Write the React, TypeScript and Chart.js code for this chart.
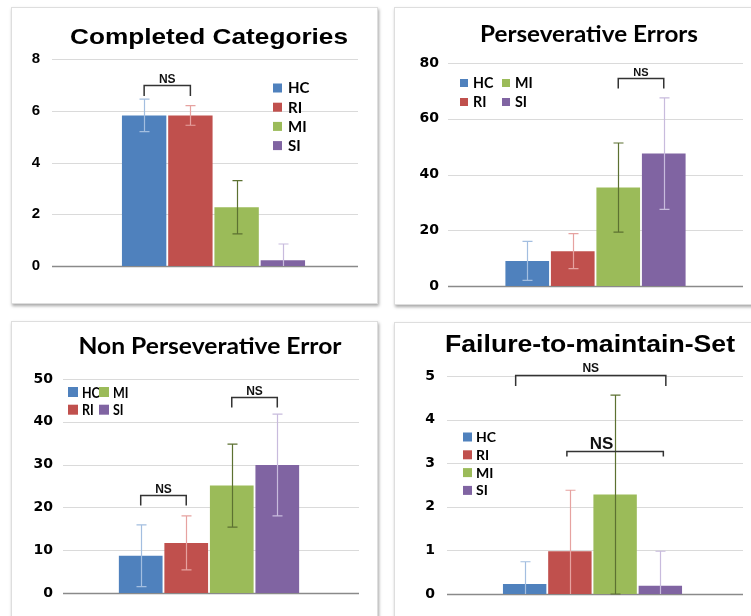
import React, { useEffect, useRef } from 'react';
import { Chart, registerables } from 'chart.js';
Chart.register(...registerables);

// ---------- data ----------
const groups = ['HC', 'RI', 'MI', 'SI'];
const barColors = ['#4F81BD', '#C0504D', '#9BBB59', '#8064A2'];
const errorColors = ['#A3BEE0', '#E6A2A0', '#5C7131', '#C8BBDD'];

const ccTitle = 'Completed Categories';
const ccMeans = [5.82, 5.82, 2.27, 0.22];
const ccErrors = [0.63, 0.38, 1.03, 0.63];
const ccAxis = [0, 8, 2];
const ccNS = [{ from: 0, to: 1, level: 7.0, label: 'NS' }];

const peTitle = 'Perseverative Errors';
const peMeans = [9.0, 12.5, 35.3, 47.5];
const peErrors = [7.0, 6.3, 16.0, 20.0];
const peAxis = [0, 80, 20];
const peNS = [{ from: 2, to: 3, level: 74.5, label: 'NS' }];

const npTitle = 'Non Perseverative Error';
const npMeans = [8.7, 11.7, 25.1, 29.9];
const npErrors = [7.2, 6.3, 9.7, 11.9];
const npAxis = [0, 50, 10];
const npNS = [
  { from: 0, to: 1, level: 23.0, label: 'NS' },
  { from: 2, to: 3, level: 45.9, label: 'NS' },
];

const fmTitle = 'Failure-to-maintain-Set';
const fmMeans = [0.23, 0.98, 2.28, 0.19];
const fmErrors = [0.51, 1.4, 2.28, 0.79];
const fmAxis = [0, 5, 1];
const fmNS = [
  { from: 0, to: 3, level: 5.02, label: 'NS' },
  { from: 1, to: 3, level: 3.29, label: 'NS' },
];

// ---------- layout / style (page coordinates) ----------
const ARIAL = '"Liberation Sans", Arial, sans-serif';
const CAL = 'Lato, "Open Sans", sans-serif';

const panels = [
  {
    title: ccTitle, means: ccMeans, errors: ccErrors, axis: ccAxis, ns: ccNS,
    card: { x: 12, y: 8, w: 366, h: 296 },
    area: { left: 69, right: 358, top: 59, bottom: 283 },
    grid: { left: 52, right: 358 },
    catPct: 0.64, barPct: 0.96,
    tickFont: { family: ARIAL, weight: 'bold', size: 15 }, tickRight: 40,
    titleStyle: { cx: 209, base: 44, font: `bold 22px ${ARIAL}`, width: 278 },
    legend: { x: 273, y: 88, rows: 4, colGap: 0, rowGap: 19.2, box: 9, gap: 6, font: `bold 15px ${CAL}`, sx: 1 },
    nsStyle: [{ dx1: 0, dx2: 0, leg: 10.5, font: `bold 12px ${ARIAL}`, gap: 2.5, tdx: 0 }],
  },
  {
    title: peTitle, means: peMeans, errors: peErrors, axis: peAxis, ns: peNS,
    card: { x: 395, y: 8, w: 356, h: 297 },
    area: { left: 448, right: 743, top: 63, bottom: 286 },
    grid: { left: 448, right: 743 },
    catPct: 0.617, barPct: 0.96,
    tickFont: { family: 'DejaVu Sans', weight: 'bold', size: 14 }, tickRight: 439,
    titleStyle: { cx: 589, base: 42, font: `bold 23px ${CAL}`, width: 218 },
    legend: { x: 460, y: 83, rows: 2, colGap: 42, rowGap: 19, box: 8, gap: 5, font: `bold 15px ${CAL}`, sx: 0.95 },
    nsStyle: [{ dx1: 0, dx2: 0, leg: 10, font: `bold 11px ${ARIAL}`, gap: 2.6, tdx: 0 }],
  },
  {
    title: npTitle, means: npMeans, errors: npErrors, axis: npAxis, ns: npNS,
    card: { x: 12, y: 322, w: 366, h: 294 },
    area: { left: 59, right: 359, top: 379, bottom: 593 },
    grid: { left: 63, right: 359 },
    catPct: 0.607, barPct: 0.96,
    tickFont: { family: 'DejaVu Sans', weight: 'bold', size: 14 }, tickRight: 53,
    titleStyle: { cx: 210, base: 354, font: `bold 22px ${CAL}`, width: 263 },
    legend: { x: 68, y: 392, rows: 2, colGap: 31, rowGap: 17.7, box: 10, gap: 4, font: `bold 16px ${CAL}`, sx: 0.78 },
    nsStyle: [
      { dx1: 0, dx2: 0, leg: 10, font: `bold 12px ${ARIAL}`, gap: 2.6, tdx: 0 },
      { dx1: 0, dx2: 0, leg: 10, font: `bold 12px ${ARIAL}`, gap: 2.6, tdx: 0 },
    ],
  },
  {
    title: fmTitle, means: fmMeans, errors: fmErrors, axis: fmAxis, ns: fmNS,
    card: { x: 395, y: 323, w: 356, h: 293 },
    area: { left: 442, right: 743, top: 376, bottom: 594 },
    grid: { left: 447, right: 743 },
    catPct: 0.601, barPct: 0.96,
    tickFont: { family: 'DejaVu Sans', weight: 'bold', size: 14 }, tickRight: 435,
    titleStyle: { cx: 590, base: 351.7, font: `bold 23px ${ARIAL}`, width: 290 },
    legend: { x: 463, y: 437, rows: 4, colGap: 0, rowGap: 17.8, box: 9, gap: 4, font: `bold 14px ${CAL}`, sx: 1 },
    nsStyle: [
      { dx1: -9, dx2: 5.5, leg: 10.5, font: `bold 12px ${ARIAL}`, gap: 3.3, tdx: 0 },
      { dx1: -3, dx2: 3, leg: 5, font: `bold 17px ${ARIAL}`, gap: 2.4, tdx: -13.5 },
    ],
  },
];

function drawText(ctx: CanvasRenderingContext2D, text: string, x: number, y: number, font: string,
  align: CanvasTextAlign, baseline: CanvasTextBaseline, sx = 1, color = '#000') {
  ctx.save();
  ctx.font = font;
  ctx.fillStyle = color;
  ctx.textAlign = align;
  ctx.textBaseline = baseline;
  ctx.translate(x, y);
  ctx.scale(sx, 1);
  ctx.fillText(text, 0, 0);
  ctx.restore();
}

function makeDecor(p: any) {
  const ox = p.card.x;
  const oy = p.card.y;
  return {
    id: 'panelDecor',
    beforeDatasetsDraw(chart: any) {
      const ctx = chart.ctx as CanvasRenderingContext2D;
      const ys = chart.scales.y;
      ctx.save();
      for (const t of ys.ticks) {
        const py = Math.round(ys.getPixelForValue(t.value)) + 0.5;
        const zero = t.value === 0;
        ctx.strokeStyle = zero ? '#8a8a8a' : '#dadada';
        ctx.lineWidth = zero ? 1.5 : 1;
        ctx.beginPath();
        ctx.moveTo(p.grid.left - ox, py);
        ctx.lineTo(p.grid.right - ox, py);
        ctx.stroke();
      }
      ctx.restore();
    },
    afterDatasetsDraw(chart: any) {
      const ctx = chart.ctx as CanvasRenderingContext2D;
      const ys = chart.scales.y;
      ctx.save();
      ctx.lineWidth = 1.2;
      groups.forEach((_, i) => {
        const bar = chart.getDatasetMeta(i).data[0];
        const x = Math.round(bar.x) + 0.5;
        const m = p.means[i];
        const e = p.errors[i];
        const top = ys.getPixelForValue(m + e);
        const lowV = m - e;
        const low = ys.getPixelForValue(Math.max(lowV, 0));
        ctx.strokeStyle = errorColors[i];
        ctx.beginPath();
        ctx.moveTo(x, top);
        ctx.lineTo(x, low);
        ctx.moveTo(x - 5, top);
        ctx.lineTo(x + 5, top);
        if (lowV >= -1e-9) {
          ctx.moveTo(x - 5, low);
          ctx.lineTo(x + 5, low);
        }
        ctx.stroke();
      });
      ctx.restore();
    },
    afterDraw(chart: any) {
      const ctx = chart.ctx as CanvasRenderingContext2D;
      const ys = chart.scales.y;
      // title
      const ts = p.titleStyle;
      ctx.save();
      ctx.font = ts.font;
      const w = ctx.measureText(p.title).width;
      ctx.restore();
      drawText(ctx, p.title, ts.cx - ox, ts.base - oy, ts.font, 'center', 'alphabetic', ts.width / w, '#000');
      // legend
      const lg = p.legend;
      groups.forEach((g, k) => {
        const col = Math.floor(k / lg.rows);
        const row = k % lg.rows;
        const bx = lg.x + col * lg.colGap - ox;
        const cy = lg.y + row * lg.rowGap - oy;
        ctx.fillStyle = barColors[k];
        ctx.fillRect(bx, cy - lg.box / 2, lg.box, lg.box);
        drawText(ctx, g, bx + lg.box + lg.gap, cy + 0.5, lg.font, 'left', 'middle', lg.sx, '#000');
      });
      // NS brackets
      p.ns.forEach((b: any, k: number) => {
        const st = p.nsStyle[k];
        const x1 = chart.getDatasetMeta(b.from).data[0].x + st.dx1;
        const x2 = chart.getDatasetMeta(b.to).data[0].x + st.dx2;
        const py = Math.round(ys.getPixelForValue(b.level)) + 0.5;
        ctx.save();
        ctx.strokeStyle = '#333';
        ctx.lineWidth = 1.5;
        ctx.beginPath();
        ctx.moveTo(x1, py + st.leg);
        ctx.lineTo(x1, py);
        ctx.lineTo(x2, py);
        ctx.lineTo(x2, py + st.leg);
        ctx.stroke();
        ctx.restore();
        drawText(ctx, b.label, (x1 + x2) / 2 + st.tdx, py - st.gap, st.font, 'center', 'alphabetic', 1, '#111');
      });
    },
  };
}

function Panel({ p }: { p: any }) {
  const ref = useRef<HTMLCanvasElement>(null);
  useEffect(() => {
    const c = p.card;
    const a = p.area;
    const chart = new Chart(ref.current as HTMLCanvasElement, {
      type: 'bar',
      data: {
        labels: [''],
        datasets: groups.map((g, i) => ({
          label: g,
          data: [p.means[i]],
          backgroundColor: barColors[i],
          borderWidth: 0,
          categoryPercentage: p.catPct,
          barPercentage: p.barPct,
        })),
      },
      options: {
        responsive: false,
        animation: false,
        devicePixelRatio: 1,
        layout: {
          padding: {
            left: 0,
            top: a.top - c.y,
            right: c.x + c.w - a.right,
            bottom: c.y + c.h - a.bottom,
          },
        },
        plugins: { legend: { display: false }, tooltip: { enabled: false }, title: { display: false } },
        scales: {
          x: { display: false },
          y: {
            min: p.axis[0],
            max: p.axis[1],
            ticks: { stepSize: p.axis[2], padding: a.left - p.tickRight, font: p.tickFont, color: '#000' },
            grid: { display: false, drawTicks: false },
            border: { display: false },
            afterFit: (s: any) => { s.width = a.left - c.x; },
          },
        },
      } as any,
      plugins: [makeDecor(p)],
    });
    return () => chart.destroy();
  }, [p]);
  return (
    <canvas
      ref={ref}
      width={p.card.w}
      height={p.card.h}
      style={{ position: 'absolute', left: p.card.x, top: p.card.y, width: p.card.w, height: p.card.h }}
    />
  );
}

export default function App() {
  return (
    <div style={{ position: 'fixed', left: 0, top: 0, width: 751, height: 616, overflow: 'hidden', background: '#fff' }}>
      {panels.map((p, i) => (
        <div
          key={'card' + i}
          style={{
            position: 'absolute',
            left: p.card.x - 1,
            top: p.card.y - 1,
            width: p.card.x > 300 ? 380 : p.card.w + 1,
            height: p.card.y > 300 ? 320 : p.card.h + 1,
            border: '1px solid #dedede',
            boxShadow: '1px 2px 3px rgba(0,0,0,0.35)',
            background: '#fff',
            boxSizing: 'border-box',
          }}
        />
      ))}
      {panels.map((p, i) => (
        <Panel key={'panel' + i} p={p} />
      ))}
    </div>
  );
}
